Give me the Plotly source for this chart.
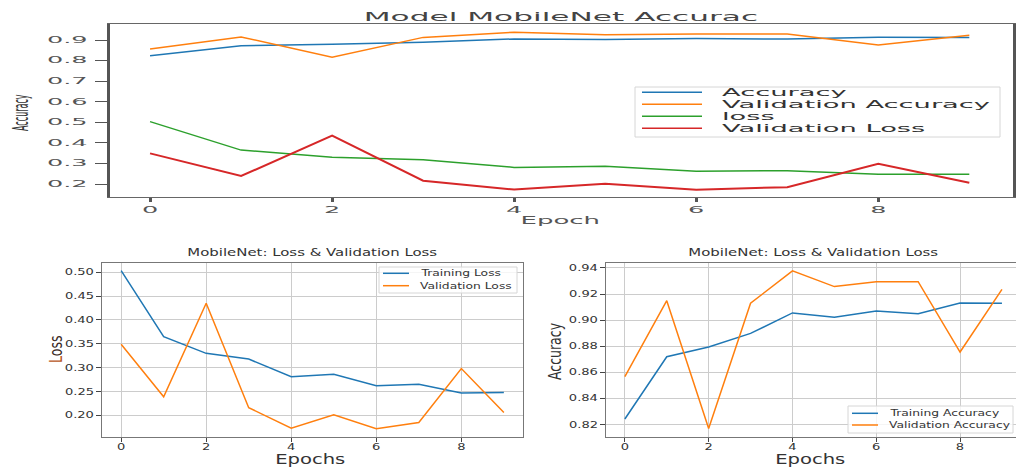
import plotly.graph_objects as go

# Training history of the MobileNet model (10 epochs)
epochs = list(range(10))
train_acc = [0.8241, 0.8719, 0.8794, 0.8898, 0.9055, 0.9021, 0.9070, 0.9049, 0.9131, 0.9129]
val_acc = [0.8566, 0.9149, 0.8169, 0.9129, 0.9378, 0.9257, 0.9295, 0.9295, 0.8755, 0.9236]
train_loss = [0.5035, 0.365, 0.330, 0.318, 0.281, 0.286, 0.262, 0.265, 0.247, 0.248]
val_loss = [0.349, 0.239, 0.435, 0.216, 0.173, 0.201, 0.172, 0.185, 0.298, 0.206]

top_ticks = [0.2, 0.3, 0.4, 0.5, 0.6, 0.7, 0.8, 0.9]
top_tick_text = ["0.2", "0.3", "0.4", "0.5", "0.6", "0.7", "0.8", "0.9"]
loss_ticks = [0.20, 0.25, 0.30, 0.35, 0.40, 0.45, 0.50]
loss_tick_text = ["0.20", "0.25", "0.30", "0.35", "0.40", "0.45", "0.50"]
acc_ticks = [0.82, 0.84, 0.86, 0.88, 0.90, 0.92, 0.94]
acc_tick_text = ["0.82", "0.84", "0.86", "0.88", "0.90", "0.92", "0.94"]
epoch_ticks = [0, 2, 4, 6, 8]

W, H = 1016, 467
FONT = "DejaVu Sans"
C_BLUE, C_ORANGE, C_GREEN, C_RED = "#1f77b4", "#ff7f0e", "#2ca02c", "#d62728"


def px(x):
    return x / W


def py(y):
    return 1 - y / H


fig = go.Figure()

# --- top panel: all four curves together ---
top_series = [
    ("Accuracy", train_acc, C_BLUE, 1.5),
    ("Validation Accuracy", val_acc, C_ORANGE, 1.5),
    ("loss", train_loss, C_GREEN, 1.5),
    ("Validation Loss", val_loss, C_RED, 2.0),
]
for name, ys, col, w in top_series:
    fig.add_trace(go.Scatter(x=epochs, y=ys, name=name, mode="lines",
                             line=dict(color=col, width=w),
                             xaxis="x", yaxis="y", showlegend=False))

# --- bottom-left: losses ---
fig.add_trace(go.Scatter(x=epochs, y=train_loss, name="Training Loss", mode="lines",
                         line=dict(color=C_BLUE, width=1.5), xaxis="x2", yaxis="y2",
                         showlegend=False))
fig.add_trace(go.Scatter(x=epochs, y=val_loss, name="Validation Loss", mode="lines",
                         line=dict(color=C_ORANGE, width=1.5), xaxis="x2", yaxis="y2",
                         showlegend=False))

# --- bottom-right: accuracies ---
fig.add_trace(go.Scatter(x=epochs, y=train_acc, name="Training Accuracy", mode="lines",
                         line=dict(color=C_BLUE, width=1.5), xaxis="x3", yaxis="y3",
                         showlegend=False))
fig.add_trace(go.Scatter(x=epochs, y=val_acc, name="Validation Accuracy", mode="lines",
                         line=dict(color=C_ORANGE, width=1.5), xaxis="x3", yaxis="y3",
                         showlegend=False))

top_tick_font = dict(family=FONT, size=8, color="#555555")
bot_tick_font = dict(family=FONT, size=9, color="#333333")

layout = dict(
    width=W, height=H,
    margin=dict(l=0, r=0, t=0, b=0),
    paper_bgcolor="white", plot_bgcolor="white",
    showlegend=False,
    font=dict(family=FONT),
    # top panel
    xaxis=dict(domain=[px(110), px(1013)], range=[-0.44, 9.48], anchor="y",
               tickvals=epoch_ticks, ticks="outside", ticklen=4, tickwidth=2.5,
               tickcolor="#555555", showgrid=False, zeroline=False,
               showline=True, linecolor="#666666", linewidth=1, mirror=True,
               tickfont=top_tick_font, ticklabelstandoff=1),
    yaxis=dict(domain=[py(197), py(24)], range=[0.137, 0.978], anchor="x",
               tickvals=top_ticks, ticktext=top_tick_text, ticks="outside",
               ticklen=12, tickwidth=1, tickcolor="#555555", showgrid=False,
               zeroline=False, showline=True, linecolor="#555555", linewidth=2.5,
               mirror=True, tickfont=top_tick_font, ticklabelstandoff=6),
    # bottom-left panel
    xaxis2=dict(domain=[px(102), px(523)], range=[-0.45, 9.45], anchor="y2",
                tickvals=epoch_ticks, ticks="outside", ticklen=3.5, tickwidth=1.4,
                tickcolor="#444444", showgrid=True, gridcolor="#cccccc", gridwidth=1.4,
                zeroline=False, showline=True, linecolor="#777777", linewidth=1,
                mirror=True, tickfont=bot_tick_font, ticklabelstandoff=-2),
    yaxis2=dict(domain=[py(437), py(263)], range=[0.1545, 0.5195], anchor="x2",
                tickvals=loss_ticks, ticktext=loss_tick_text, ticks="outside",
                ticklen=5, tickwidth=1, tickcolor="#444444", showgrid=True,
                gridcolor="#cccccc", gridwidth=1, zeroline=False, showline=True,
                linecolor="#777777", linewidth=1.4, mirror=True, tickfont=bot_tick_font),
    # bottom-right panel
    xaxis3=dict(domain=[px(606), 1.0], range=[-0.45, 9.335], anchor="y3",
                tickvals=epoch_ticks, ticks="outside", ticklen=3.5, tickwidth=1.4,
                tickcolor="#444444", showgrid=True, gridcolor="#cccccc", gridwidth=1.4,
                zeroline=False, showline=True, linecolor="#777777", linewidth=1,
                mirror=True, tickfont=bot_tick_font, ticklabelstandoff=-2),
    yaxis3=dict(domain=[py(437), py(263)], range=[0.8103, 0.9438], anchor="x3",
                tickvals=acc_ticks, ticktext=acc_tick_text, ticks="outside",
                ticklen=5, tickwidth=1, tickcolor="#444444", showgrid=True,
                gridcolor="#cccccc", gridwidth=1, zeroline=False, showline=True,
                linecolor="#777777", linewidth=1.4, mirror=False, tickfont=bot_tick_font),
)
fig.update_layout(**layout)

annotations = []
shapes = []


def label(text, x, y, size, color, xanchor="center", textangle=0, align="center"):
    annotations.append(dict(text=text, x=px(x), y=py(y), xref="paper", yref="paper",
                            xanchor=xanchor, yanchor="middle", showarrow=False,
                            textangle=textangle, align=align,
                            font=dict(family=FONT, size=size, color=color)))


# titles and axis titles
label("Model MobileNet Accurac", 561, 17, 12, "#444444")
label("Epoch", 560, 220, 10, "#555555")
label("Accuracy", 21, 113, 8, "#333333", textangle=-90)

label("MobileNet: Loss & Validation Loss", 312, 252, 10.3, "#333333")
label("Epochs", 310, 459, 13.5, "#333333")
label("<span style='color:#b8561c'>L</span>oss", 55, 350, 12.5, "#3a2a24", textangle=-90)

label("MobileNet: Loss & Validation Loss", 813, 252, 10.3, "#333333")
label("Epochs", 810, 459, 13.5, "#333333")
label("Accuracy", 554, 351, 12.5, "#333333", textangle=-90)


def legend_box(x0, y0, x1, y1, entries, line_x0, line_x1, text_x, size):
    shapes.append(dict(type="rect", xref="paper", yref="paper",
                       x0=px(x0), x1=px(x1), y0=py(y1), y1=py(y0),
                       line=dict(color="#d6d6d6", width=1),
                       fillcolor="rgba(255,255,255,0.8)", layer="above"))
    for name, col, yy in entries:
        shapes.append(dict(type="line", xref="paper", yref="paper",
                           x0=px(line_x0), x1=px(line_x1), y0=py(yy), y1=py(yy),
                           line=dict(color=col, width=1.5), layer="above"))
        label(name, text_x, yy, size, "#333333", xanchor="left", align="left")


legend_box(635, 87, 1000, 137,
           [("Accuracy", C_BLUE, 92.3), ("Validation Accuracy", C_ORANGE, 104.3),
            ("loss", C_GREEN, 116.3), ("Validation Loss", C_RED, 128.3)],
           642, 702, 720, 10.5)
legend_box(379, 267, 517, 293,
           [("Training Loss", C_BLUE, 273.3), ("Validation Loss", C_ORANGE, 285.7)],
           383, 409, 418, 8.5)
legend_box(848, 406, 1013, 433,
           [("Training Accuracy", C_BLUE, 413.3), ("Validation Accuracy", C_ORANGE, 425)],
           852, 878, 887, 8.5)

fig.update_layout(annotations=annotations, shapes=shapes)

# Widen every label horizontally (wide lettering of the original figure),
# anchored at each text's own anchor point: upper-panel tick labels 3.2x,
# other upper-panel texts 2.6x, lower panels 1.45x.
widen_text = """
document.body.style.margin = '0';
var gd = document.getElementById('{plot_id}');
function asDom(m) { return new DOMMatrix([m.a, m.b, m.c, m.d, m.e, m.f]); }
gd.querySelectorAll('svg text').forEach(function (t) {
  if (!t.textContent.trim()) return;
  var r = t.getBoundingClientRect();
  if (!r.width) return;
  var upper = (r.top + r.height / 2) < 232;
  var isTick = !!t.closest('.xtick, .ytick');
  var k = upper ? (isTick ? 3.2 : 2.6) : 1.45;
  var own = t.getScreenCTM();
  var rotated = Math.abs(own.b) > 0.5;
  var a = getComputedStyle(t).textAnchor || 'start';
  var sx = r.left + r.width / 2;
  if (!rotated && a === 'start') sx = r.left;
  if (!rotated && a === 'end') sx = r.right;
  var P = asDom(t.parentNode.getScreenCTM());
  var S = new DOMMatrix([k, 0, 0, 1, sx * (1 - k), 0]);
  var M = P.inverse().multiply(S).multiply(P);
  var prev = t.getAttribute('transform') || '';
  t.setAttribute('transform', 'matrix(' + [M.a, M.b, M.c, M.d, M.e, M.f].join(',') + ') ' + prev);
});
"""

fig.write_html("out.html", post_script=widen_text, config={"displayModeBar": False})
